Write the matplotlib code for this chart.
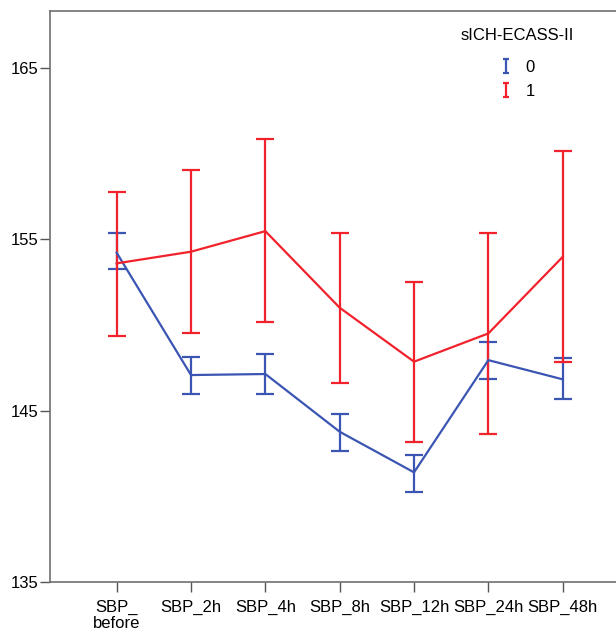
import matplotlib
matplotlib.use("Agg")
import matplotlib.pyplot as plt
from matplotlib.path import Path
from matplotlib.lines import Line2D

plt.rcParams['font.family'] = ['Liberation Sans', 'DejaVu Sans']

categories = ["SBP_\nbefore", "SBP_2h", "SBP_4h", "SBP_8h", "SBP_12h", "SBP_24h", "SBP_48h"]

g0_mean = [154.22, 147.08, 147.14, 143.77, 141.40, 147.95, 146.83]
g0_low  = [153.25, 145.95, 146.00, 142.66, 140.27, 146.84, 145.66]
g0_high = [155.35, 148.15, 148.29, 144.80, 142.41, 149.02, 148.05]

g1_mean = [153.60, 154.28, 155.48, 151.01, 147.86, 149.51, 153.98]
g1_low  = [149.35, 149.51, 150.17, 146.61, 143.15, 143.62, 147.85]
g1_high = [157.78, 159.05, 160.86, 155.35, 152.49, 155.35, 160.17]

group_labels = ["0", "1"]
legend_title = "sICH-ECASS-II"
yticks = [135, 145, 155, 165]

blue = "#3B55B3"
red = "#F2222C"

fig = plt.figure(figsize=(6.16, 6.31), dpi=100)
ax = fig.add_axes([50/616, 49/631, 566/616, 571/631])

x = list(range(len(categories)))
for mean, lo, hi, col in [(g0_mean, g0_low, g0_high, blue), (g1_mean, g1_low, g1_high, red)]:
    yerr = [[m - l for m, l in zip(mean, lo)], [h - m for m, h in zip(mean, hi)]]
    ax.errorbar(x, mean, yerr=yerr, color=col, lw=1.6, elinewidth=1.6,
                capsize=6.5, capthick=1.6)

ax.set_xlim(-0.897, 6.717)
ax.set_ylim(135, 168.33)
ax.set_yticks(yticks)
ax.set_yticklabels([str(t) for t in yticks])
ax.set_xticks(x)
ax.set_xticklabels(categories, fontsize=12, linespacing=1.1)
ax.tick_params(axis='y', labelsize=12, length=7, width=1.0, color='#555555', pad=1)
ax.tick_params(axis='x', labelsize=12, length=7, width=1.0, color='#555555', pad=6)
for s in ['left', 'bottom', 'top']:
    ax.spines[s].set_color('#707070')
    ax.spines[s].set_linewidth(1.2)
ax.spines['right'].set_visible(False)

ibar = Path([(-0.5, 1), (0.5, 1), (0, 1), (0, -1), (-0.5, -1), (0.5, -1)],
            [Path.MOVETO, Path.LINETO, Path.MOVETO, Path.LINETO, Path.MOVETO, Path.LINETO])
handles = [Line2D([], [], ls='none', marker=ibar, markersize=10, markeredgewidth=1.6,
                  markeredgecolor=c, markerfacecolor='none') for c in (blue, red)]
leg = ax.legend(handles, group_labels, title=legend_title, frameon=False,
                loc='upper center', bbox_to_anchor=(517/616, 1 - 20/631),
                bbox_transform=fig.transFigure, fontsize=12, title_fontsize=12,
                handlelength=0.8, handletextpad=0.8, labelspacing=0.55, borderpad=0)
try:
    leg._legend_box.sep = 12
except Exception:
    pass

fig.savefig("out.png", dpi=100)
